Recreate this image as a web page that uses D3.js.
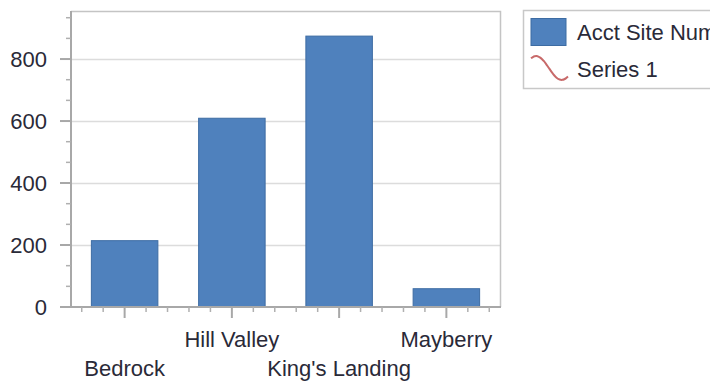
<!DOCTYPE html>
<html>
<head>
<meta charset="utf-8">
<script src="https://cdn.jsdelivr.net/npm/d3@7"></script>
<style>
  html, body { margin: 0; padding: 0; background: #fff; overflow: hidden; }
  svg { display: block; font-family: "Liberation Sans", Arial, sans-serif; }
  .lbl { font-size: 22px; fill: #2a2a38; }
</style>
</head>
<body>
<svg id="chart" width="710" height="381"></svg>
<script>
const categories = ["Bedrock", "Hill Valley", "King's Landing", "Mayberry"];
const acctSiteValues = [214, 609, 874, 59];
const yTickValues = [0, 200, 400, 600, 800];
const legendLabels = ["Acct Site Number", "Series 1"];

const BAR_COLOR = "#4f81bd";
const BAR_EDGE = "#3d6ca3";
const LINE_COLOR = "#c86a6a";

const plot = { left: 71, right: 500, top: 11, bottom: 307 };

const svg = d3.select("#chart");

const x = d3.scaleBand()
  .domain(categories)
  .range([plot.left, plot.right])
  .paddingInner(0.38)
  .paddingOuter(0.19);

const y = d3.scaleLinear()
  .domain([0, 955])
  .range([plot.bottom, plot.top]);

// grid lines
svg.append("g")
  .selectAll("line")
  .data(yTickValues.filter((v) => v > 0))
  .join("line")
  .attr("x1", plot.left)
  .attr("x2", plot.right)
  .attr("y1", (d) => Math.round(y(d)) + 0.5)
  .attr("y2", (d) => Math.round(y(d)) + 0.5)
  .attr("stroke", "#dcdcdc")
  .attr("stroke-width", 1.5);

// plot border (top and right)
svg.append("path")
  .attr("d", `M${plot.left},${plot.top + 0.5}H${plot.right + 0.5}V${plot.bottom}`)
  .attr("fill", "none")
  .attr("stroke", "#c4c4c4")
  .attr("stroke-width", 1.5);

// bars
svg.append("g")
  .selectAll("rect")
  .data(categories)
  .join("rect")
  .attr("x", (d) => x(d))
  .attr("y", (d, i) => y(acctSiteValues[i]))
  .attr("width", x.bandwidth())
  .attr("height", (d, i) => y(0) - y(acctSiteValues[i]))
  .attr("fill", BAR_COLOR)
  .attr("stroke", BAR_EDGE)
  .attr("stroke-width", 1);

// y axis
const yMinor = [];
for (let i = 0; i < yTickValues.length; i++) {
  const step = 200 / 3;
  for (let k = 1; k < 3; k++) {
    const v = yTickValues[i] + k * step;
    if (v < y.domain()[1]) yMinor.push(v);
  }
}

const yAxis = svg.append("g");
yAxis.append("line")
  .attr("x1", plot.left).attr("x2", plot.left)
  .attr("y1", plot.top).attr("y2", plot.bottom)
  .attr("stroke", "#a8a8a8").attr("stroke-width", 2);
yAxis.selectAll(".maj")
  .data(yTickValues)
  .join("line")
  .attr("x1", plot.left - 11).attr("x2", plot.left)
  .attr("y1", (d) => y(d)).attr("y2", (d) => y(d))
  .attr("stroke", "#a8a8a8").attr("stroke-width", 2);
yAxis.selectAll(".min")
  .data(yMinor)
  .join("line")
  .attr("x1", plot.left - 5).attr("x2", plot.left)
  .attr("y1", (d) => y(d)).attr("y2", (d) => y(d))
  .attr("stroke", "#b0b0b0").attr("stroke-width", 1.5);
yAxis.selectAll("text")
  .data(yTickValues)
  .join("text")
  .attr("class", "lbl")
  .attr("x", 47)
  .attr("y", (d) => y(d))
  .attr("dy", "0.36em")
  .attr("text-anchor", "end")
  .text((d) => d);

// x axis
const xAxis = svg.append("g");
xAxis.append("line")
  .attr("x1", plot.left - 1).attr("x2", plot.right + 1)
  .attr("y1", plot.bottom).attr("y2", plot.bottom)
  .attr("stroke", "#a8a8a8").attr("stroke-width", 2);

const step = x.step();
const centers = categories.map((c) => x(c) + x.bandwidth() / 2);
const xMinor = [];
for (let k = -5; k <= 5 * categories.length; k++) {
  if (k % 5 === 0) continue;
  const px = centers[0] + k * step / 5;
  if (px >= plot.left + 2 && px <= plot.right) xMinor.push(px);
}
xAxis.selectAll(".maj")
  .data(centers)
  .join("line")
  .attr("x1", (d) => d).attr("x2", (d) => d)
  .attr("y1", plot.bottom).attr("y2", plot.bottom + 11)
  .attr("stroke", "#a8a8a8").attr("stroke-width", 2);
xAxis.selectAll(".min")
  .data(xMinor)
  .join("line")
  .attr("x1", (d) => d).attr("x2", (d) => d)
  .attr("y1", plot.bottom).attr("y2", plot.bottom + 5)
  .attr("stroke", "#b0b0b0").attr("stroke-width", 1.5);
xAxis.selectAll("text")
  .data(categories)
  .join("text")
  .attr("class", "lbl")
  .attr("x", (d) => x(d) + x.bandwidth() / 2)
  .attr("y", (d, i) => i % 2 === 0 ? 376 : 347)
  .attr("text-anchor", "middle")
  .text((d) => d);

// legend
const legend = svg.append("g");
legend.append("rect")
  .attr("x", 523.5).attr("y", 10.5)
  .attr("width", 260).attr("height", 78)
  .attr("fill", "#fff")
  .attr("stroke", "#c8c8c8").attr("stroke-width", 1.5);
legend.append("rect")
  .attr("x", 531).attr("y", 18.5)
  .attr("width", 35).attr("height", 27)
  .attr("fill", BAR_COLOR)
  .attr("stroke", BAR_EDGE);
legend.append("text")
  .attr("class", "lbl")
  .attr("x", 577).attr("y", 32)
  .attr("dy", "0.36em")
  .text(legendLabels[0]);

// legend line-series icon: a short wave, high at left, low at right
const wave = d3.range(0, 1.0001, 0.05).map((t) => [531 + t * 37, 68 - 12 * Math.sin(Math.PI * (0.3 + t * 1.45))]);
legend.append("path")
  .attr("d", d3.line().curve(d3.curveBasis)(wave))
  .attr("fill", "none")
  .attr("stroke", LINE_COLOR)
  .attr("stroke-width", 2);
legend.append("text")
  .attr("class", "lbl")
  .attr("x", 577).attr("y", 69)
  .attr("dy", "0.36em")
  .text(legendLabels[1]);
</script>
</body>
</html>
